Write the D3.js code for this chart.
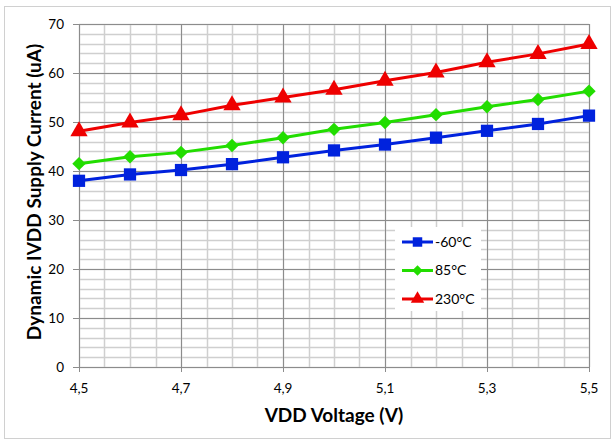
<!DOCTYPE html>
<html>
<head>
<meta charset="utf-8">
<style>
  body { margin: 0; background: #fff; }
  svg { display: block; }
  text { font-family: Lato, "Open Sans", sans-serif; fill: #000; }
</style>
</head>
<body>
<svg width="615" height="445"></svg>
<script src="https://d3js.org/d3.v7.min.js"></script>
<script>
// VDD voltage (V)
var voltages = [4.5, 4.6, 4.7, 4.8, 4.9, 5.0, 5.1, 5.2, 5.3, 5.4, 5.5];
// dynamic IVDD supply current (uA) per temperature
var coldValues = [38.0, 39.3, 40.2, 41.4, 42.8, 44.2, 45.4, 46.8, 48.2, 49.6, 51.3];
var roomValues = [41.5, 42.9, 43.8, 45.2, 46.8, 48.5, 49.9, 51.5, 53.1, 54.6, 56.3];
var hotValues  = [48.1, 49.9, 51.4, 53.4, 55.0, 56.6, 58.4, 60.1, 62.2, 63.9, 65.9];
var seriesNames = ["-60°C", "85°C", "230°C"];
var xTicks = [4.5, 4.7, 4.9, 5.1, 5.3, 5.5];
var yTicks = [0, 10, 20, 30, 40, 50, 60, 70];

// diamond = square turned 45 degrees (d3's diamond is too tall)
var series = [
  { name: seriesNames[0], values: coldValues, color: "#0022dd", shape: d3.symbolSquare, size: 150, rot: 0 },
  { name: seriesNames[1], values: roomValues, color: "#22dd00", shape: d3.symbolSquare, size: 90, rot: 45 },
  { name: seriesNames[2], values: hotValues,  color: "#ee0000", shape: d3.symbolTriangle, size: 130, rot: 0 }
];

var svg = d3.select("svg");

// outer chart frame
svg.append("rect")
    .attr("x", 4.5).attr("y", 6.5)
    .attr("width", 606).attr("height", 432)
    .attr("fill", "#fff").attr("stroke", "#d0d0d0");

var x = d3.scaleLinear().domain([4.5, 5.5]).range([79, 589]);
var y = d3.scaleLinear().domain([0, 70]).range([367, 24]);

var g = svg.append("g");

// minor grid
g.selectAll(".vminor")
    .data(d3.range(4.5, 5.5001, 0.05))
  .enter().append("line")
    .attr("x1", function(d) { return Math.round(x(d)) + 0.5; })
    .attr("x2", function(d) { return Math.round(x(d)) + 0.5; })
    .attr("y1", y(70)).attr("y2", y(0))
    .attr("stroke", "#cfcfcf").attr("stroke-width", 1.5);
g.selectAll(".hminor")
    .data(d3.range(0, 70.001, 2))
  .enter().append("line")
    .attr("y1", function(d) { return Math.round(y(d)) + 0.5; })
    .attr("y2", function(d) { return Math.round(y(d)) + 0.5; })
    .attr("x1", x(4.5)).attr("x2", x(5.5))
    .attr("stroke", "#cfcfcf").attr("stroke-width", 1.5);

// major grid
g.selectAll(".vmajor")
    .data(xTicks)
  .enter().append("line")
    .attr("x1", function(d) { return Math.round(x(d)) + 0.5; })
    .attr("x2", function(d) { return Math.round(x(d)) + 0.5; })
    .attr("y1", y(70)).attr("y2", y(0) + 5)
    .attr("stroke", "#8c8c8c");
g.selectAll(".hmajor")
    .data(yTicks)
  .enter().append("line")
    .attr("y1", function(d) { return Math.round(y(d)) + 0.5; })
    .attr("y2", function(d) { return Math.round(y(d)) + 0.5; })
    .attr("x1", x(4.5) - 6).attr("x2", x(5.5))
    .attr("stroke", "#8c8c8c");

// tick labels
g.selectAll(".ylab")
    .data(yTicks)
  .enter().append("text")
    .attr("x", 64).attr("y", function(d) { return y(d); })
    .attr("dy", "0.35em")
    .attr("text-anchor", "end")
    .style("font-size", "13.5px")
    .text(function(d) { return d; });
g.selectAll(".xlab")
    .data(xTicks)
  .enter().append("text")
    .attr("x", function(d) { return x(d); })
    .attr("y", 393)
    .attr("text-anchor", "middle")
    .style("font-size", "13.5px")
    .text(function(d) { return d3.format(".1f")(d).replace(".", ","); });

// axis titles
svg.append("text")
    .attr("x", 334).attr("y", 422)
    .attr("text-anchor", "middle")
    .style("font-size", "19px").style("font-weight", "bold")
    .text("VDD Voltage (V)");
svg.append("text")
    .attr("transform", "translate(41,192) rotate(-90)")
    .attr("text-anchor", "middle")
    .style("font-size", "19px").style("font-weight", "bold")
    .text("Dynamic IVDD Supply Current (uA)");

// lines and markers
var line = d3.line()
    .x(function(d, i) { return x(voltages[i]); })
    .y(function(d) { return y(d); });

series.forEach(function(s) {
  g.append("path")
      .attr("d", line(s.values))
      .attr("fill", "none")
      .attr("stroke", s.color)
      .attr("stroke-width", 3);
  g.selectAll(null)
      .data(s.values)
    .enter().append("path")
      .attr("transform", function(d, i) {
        return "translate(" + x(voltages[i]) + "," + y(d) + ") rotate(" + s.rot + ")";
      })
      .attr("d", d3.symbol().type(s.shape).size(s.size))
      .attr("fill", s.color);
});

// legend
var legend = svg.append("g").attr("transform", "translate(395,227)");
legend.append("rect")
    .attr("width", 86).attr("height", 84)
    .attr("fill", "#fff");
series.forEach(function(s, i) {
  var row = legend.append("g").attr("transform", "translate(0," + (15 + i * 28.5) + ")");
  row.append("line")
      .attr("x1", 7).attr("x2", 38)
      .attr("stroke", s.color).attr("stroke-width", 3);
  row.append("path")
      .attr("transform", "translate(22.5,0) rotate(" + s.rot + ")")
      .attr("d", d3.symbol().type(s.shape).size(s.size * 0.6))
      .attr("fill", s.color);
  row.append("text")
      .attr("x", 40).attr("dy", "0.35em")
      .style("font-size", "14px")
      .text(s.name);
});
</script>
</body>
</html>
